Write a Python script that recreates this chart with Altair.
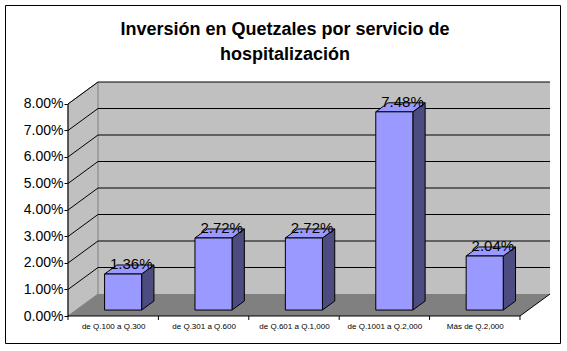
import json
import altair as alt
import pandas as pd

# ---- data ----
categories = ["de Q.100 a Q.300", "de Q.301 a Q.600", "de Q.601 a Q.1,000",
              "de Q.1001 a Q.2,000", "Más de Q.2,000"]
values = [1.36, 2.72, 2.72, 7.48, 2.04]          # percent
y_ticks = [0, 1, 2, 3, 4, 5, 6, 7, 8]
title_lines = ["Inversión en Quetzales por servicio de", "hospitalización"]

# ---- 3D geometry (style, in data units) ----
N = len(categories)
YMAX = 8
DX, DY = 0.332, 0.83      # full floor depth offset
T0, T1 = 0.27, 0.68       # bar front/back depth fraction
HW, C = 0.205, 0.52       # bar half width, bar center inside band
FONT = "Liberation Sans"

xs = alt.Scale(domain=[0, N + DX], nice=False, zero=False)
ys = alt.Scale(domain=[0, YMAX + DY], nice=False, zero=False)

cat_expr = json.dumps(categories) + "[floor(datum.value)]"
xaxis = alt.Axis(values=[i + 0.5 for i in range(N)], labelExpr=cat_expr,
                 domain=False, ticks=False, grid=False, labelPadding=6,
                 labelFontSize=8, labelFont=FONT, labelColor="black")
yaxis = alt.Axis(values=y_ticks, labelExpr="format(datum.value, '.2f') + '%'",
                 domain=False, tickSize=4, tickColor="black", tickWidth=1,
                 grid=False, labelPadding=1, labelFontSize=14, labelFont=FONT,
                 labelColor="black")


def X():
    return alt.X("x:Q", scale=xs, title=None, axis=xaxis)


def Y():
    return alt.Y("y:Q", scale=ys, title=None, axis=yaxis)


# front faces
front = pd.DataFrame({
    "cat": categories,
    "x": [i + C - HW + T0 * DX for i in range(N)],
    "x2": [i + C + HW + T0 * DX for i in range(N)],
    "y": [T0 * DY] * N,
    "y2": [v + T0 * DY for v in values],
})
side_rows, top_rows = [], []
for i, v in enumerate(values):
    for t in (T0, T1):
        side_rows.append({"cat": categories[i], "x": i + C + HW + t * DX,
                          "y": t * DY, "y2": v + t * DY})
        top_rows.append({"cat": categories[i], "y": v + t * DY,
                         "x": i + C - HW + t * DX, "x2": i + C + HW + t * DX})
side = pd.DataFrame(side_rows)
top = pd.DataFrame(top_rows)
labels = pd.DataFrame({"v": values,
                       "x": [i + 0.7 for i in range(N)],
                       "y": [v + 0.6 for v in values]})

back = pd.DataFrame({"x": [DX], "x2": [N + DX], "y": [DY], "y2": [YMAX + DY]})
leftw = pd.DataFrame({"x": [0, DX], "y": [0, DY], "y2": [YMAX, YMAX + DY]})
floor = pd.DataFrame({"y": [0, DY], "x": [0, DX], "x2": [N, N + DX]})

grid_rows = []
for k in y_ticks[1:]:
    for o, (gx, gy) in enumerate([(0, k), (DX, k + DY), (N + DX, k + DY)]):
        grid_rows.append({"k": k, "o": o, "x": gx, "y": gy})
grid = pd.DataFrame(grid_rows)

rule_rows = [
    {"x": 0, "x2": 0, "y": 0, "y2": YMAX},
    {"x": 0, "x2": N, "y": 0, "y2": 0},
    {"x": N, "x2": N + DX, "y": 0, "y2": DY},
]
for i in range(N + 1):
    rule_rows.append({"x": i, "x2": i, "y": 0, "y2": -0.15})
rules = pd.DataFrame(rule_rows)

back_l = alt.Chart(back).mark_rect(fill="#C0C0C0").encode(x=X(), x2="x2", y=Y(), y2="y2")
left_l = alt.Chart(leftw).mark_area(fill="#C0C0C0", stroke="#808080", strokeWidth=1).encode(
    x=X(), y=Y(), y2="y2")
floor_l = alt.Chart(floor).mark_area(orient="horizontal", fill="#808080").encode(
    y=Y(), x=X(), x2="x2")
grid_l = alt.Chart(grid).mark_line(color="black", strokeWidth=1).encode(
    x=X(), y=Y(), detail="k:N", order="o:Q")
rules_l = alt.Chart(rules).mark_rule(color="black", strokeWidth=1).encode(
    x=X(), x2="x2", y=Y(), y2="y2")
side_l = alt.Chart(side).mark_area(fill="#4C4C80", stroke="black", strokeWidth=1).encode(
    x=X(), y=Y(), y2="y2", detail="cat:N")
top_l = alt.Chart(top).mark_area(orient="horizontal", fill="#9999FF", stroke="black",
                                 strokeWidth=1).encode(y=Y(), x=X(), x2="x2", detail="cat:N")
front_l = alt.Chart(front).mark_rect(fill="#9999FF", stroke="black", strokeWidth=1).encode(
    x=X(), x2="x2", y=Y(), y2="y2")
text_l = alt.Chart(labels).transform_calculate(
    lab="format(datum.v, '.2f') + '%'"
).mark_text(font=FONT, fontSize=15, color="black", baseline="middle", align="center").encode(
    x=X(), y=Y(), text="lab:N")

one = pd.DataFrame({"a": [0]})
title_l = alt.Chart(one).mark_text(font=FONT, fontSize=18, fontWeight="bold", color="black",
                                   align="center", baseline="alphabetic", lineHeight=25).encode(
    x=alt.value(217), y=alt.value(-47), text=alt.value(title_lines))
frame_l = alt.Chart(one).mark_rect(fill="transparent", stroke="black", strokeWidth=1).encode(
    x=alt.value(-62.5), x2=alt.value(492.5), y=alt.value(-76.5), y2=alt.value(261.5))

chart = alt.layer(
    back_l, left_l, floor_l, grid_l, rules_l, side_l, top_l, front_l, text_l, title_l, frame_l
).properties(
    width=482, height=234,
    autosize=alt.AutoSizeParams(type="none"),
    padding={"left": 68, "top": 82, "right": 17, "bottom": 35},
    background="white",
).configure_view(strokeWidth=0)

chart.save("out.html", embed_options={"renderer": "svg", "actions": False})
